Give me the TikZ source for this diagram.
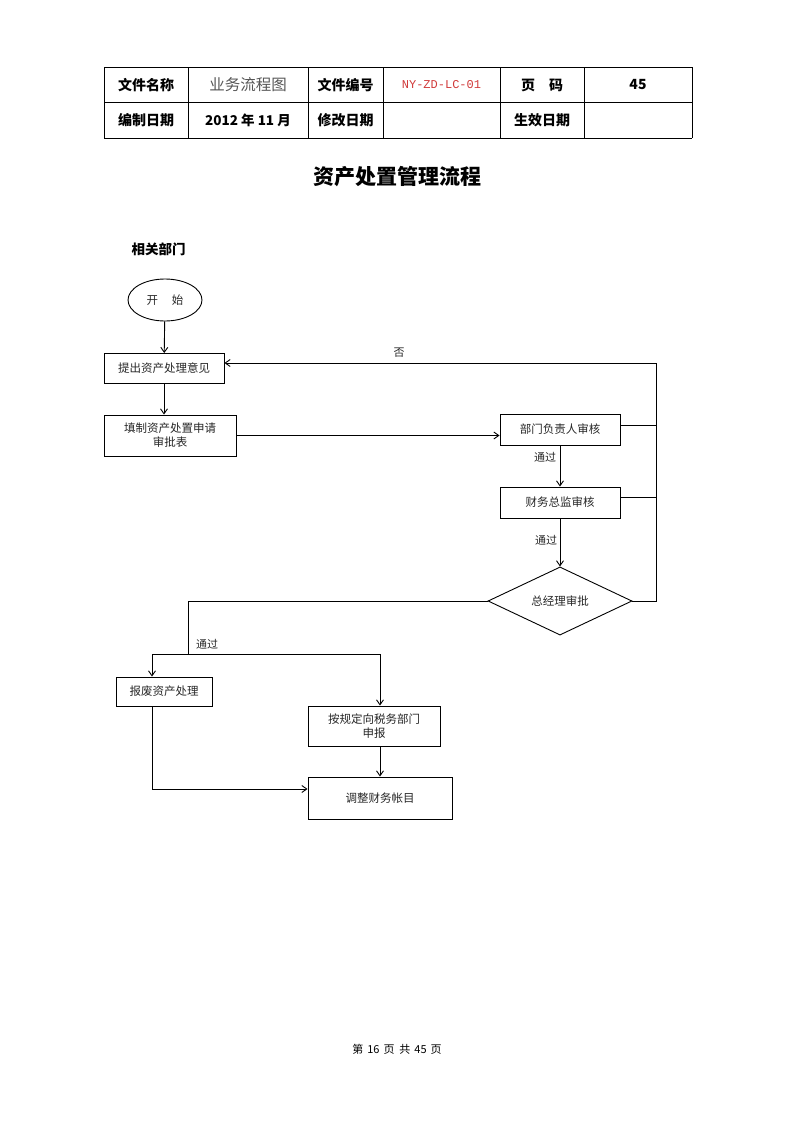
\documentclass[tikz,border=0pt]{standalone}
\usepackage{fontspec}
\setmainfont{Liberation Serif}
\newfontfamily\cjk{Noto Sans CJK SC}
\newfontfamily\monof{Liberation Mono}
\usetikzlibrary{shapes.geometric,arrows.meta}
\definecolor{redtxt}{HTML}{D03A3A}
\definecolor{graytxt}{HTML}{555555}
\begin{document}
\begin{tikzpicture}[x=1pt,y=-1pt,
  line width=0.9pt,
  every node/.style={font=\cjk\fontsize{11.5}{14}\selectfont, text=black!85, inner sep=0pt},
  flowbox/.style={draw, rectangle, align=center},
  startshape/.style={draw, ellipse, minimum width=74pt, minimum height=42pt},
  decision/.style={draw, diamond, minimum width=144pt, minimum height=60pt},
  arr/.style={-{Straight Barb[length=5pt,width=7pt]}},
  hdr/.style={font=\cjk\bfseries\fontsize{14}{16}\selectfont, text=black},
  lbl/.style={font=\cjk\fontsize{11}{13}\selectfont, text=black!85}]
\useasboundingbox (0,0) rectangle (793,1122);

% header table
\draw[line width=0.9pt] (104,67) -- (692,67) (104,102) -- (692,102) (104,138) -- (692,138);
\foreach \x in {104,188,308,383,500,584,692} \draw[line width=0.9pt] (\x,67) -- (\x,138);
\node[hdr] (t1) at (146,85) {文件名称};
\node[font=\cjk\fontsize{15.5}{17}\selectfont, text=graytxt] (t2) at (248,85) {业务流程图};
\node[hdr] (t3) at (345.5,85) {文件编号};
\node[font=\monof\fontsize{12}{14}\selectfont, text=redtxt] (t4) at (441.5,85) {NY-ZD-LC-01};
\node[hdr] (t5) at (542,85) {页\hspace{1em}码};
\node[hdr] (t6) at (638,85) {45};
\node[hdr] (t7) at (146,120) {编制日期};
\node[hdr, font=\cjk\bfseries\fontsize{13.5}{16}\selectfont] (t8) at (248,120) {2012 年 11 月};
\node[hdr] (t9) at (345.5,120) {修改日期};
\node[hdr] (t10) at (542,120) {生效日期};

% title
\node[font=\cjk\bfseries\fontsize{21}{24}\selectfont, text=black] (title) at (397.5,177) {资产处置管理流程};
\node[font=\cjk\bfseries\fontsize{13.5}{16}\selectfont, text=black] (dept) at (158.5,249) {相关部门};

% flow nodes
\node[startshape] (start) at (165,300) {开\hspace{1.2em}始};
\node[flowbox, minimum width=120pt, minimum height=30pt] (b1) at (164,368.5) {提出资产处理意见};
\node[flowbox, minimum width=132pt, minimum height=41pt] (b2) at (170,435.5) {填制资产处置申请\\审批表};
\node[flowbox, minimum width=120pt, minimum height=31pt] (b3) at (560,429.5) {部门负责人审核};
\node[flowbox, minimum width=120pt, minimum height=31pt] (b4) at (560,502.5) {财务总监审核};
\node[decision] (d) at (560,601) {总经理审批};
\node[flowbox, minimum width=96pt, minimum height=29pt] (b5) at (164,691.5) {报废资产处理};
\node[flowbox, minimum width=132pt, minimum height=40pt] (b6) at (374,726) {按规定向税务部门\\申报};
\node[flowbox, minimum width=144pt, minimum height=42pt] (b7) at (380,798) {调整财务帐目};

% helper coordinates
\coordinate (r1) at (656,363);
\coordinate (r4) at (656,601);
\coordinate (dl) at (188,601);
\coordinate (jm) at (188,654);
\coordinate (jl) at (152,654);
\coordinate (jr) at (380,654);
\coordinate (c5) at (152,789);

% connectors
\draw[arr] (start) -- (b1);
\draw[arr] (b1.south) -- (b1.south |- b2.north);
\draw[arr] (b2.east) -- (b2.east -| b3.west);
\draw[arr] (b3) -- (b4);
\draw[arr] (b4) -- (d);
\draw ([yshift=4pt]b3.east) -- ([yshift=4pt]b3.east -| r1);
\draw ([yshift=5pt]b4.east) -- ([yshift=5pt]b4.east -| r1);
\draw[arr] (d.east) -- (r4) -- (r1) -- (r1 -| b1.east);
\draw (d.west) -- (dl) -- (jm);
\draw (jl) -- (jr);
\draw[arr] (jl) -- (jl |- b5.north);
\draw[arr] (jr) -- (jr |- b6.north);
\draw[arr] (b6.south -| b7.north) -- (b7.north);
\draw[arr] (b5.south -| c5) -- (c5) -- (c5 -| b7.west);

% labels
\node[lbl] (no) at (399,353) {否};
\node[lbl] (ok1) at (545,457) {通过};
\node[lbl] (ok2) at (546,540) {通过};
\node[lbl] (ok3) at (207,644) {通过};

% footer
\node[font=\cjk\fontsize{11}{13}\selectfont, text=black] (foot) at (397,1049) {第\hspace{4pt}16\hspace{4pt}页\hspace{5pt}共\hspace{4pt}45\hspace{4pt}页};
\end{tikzpicture}
\end{document}
